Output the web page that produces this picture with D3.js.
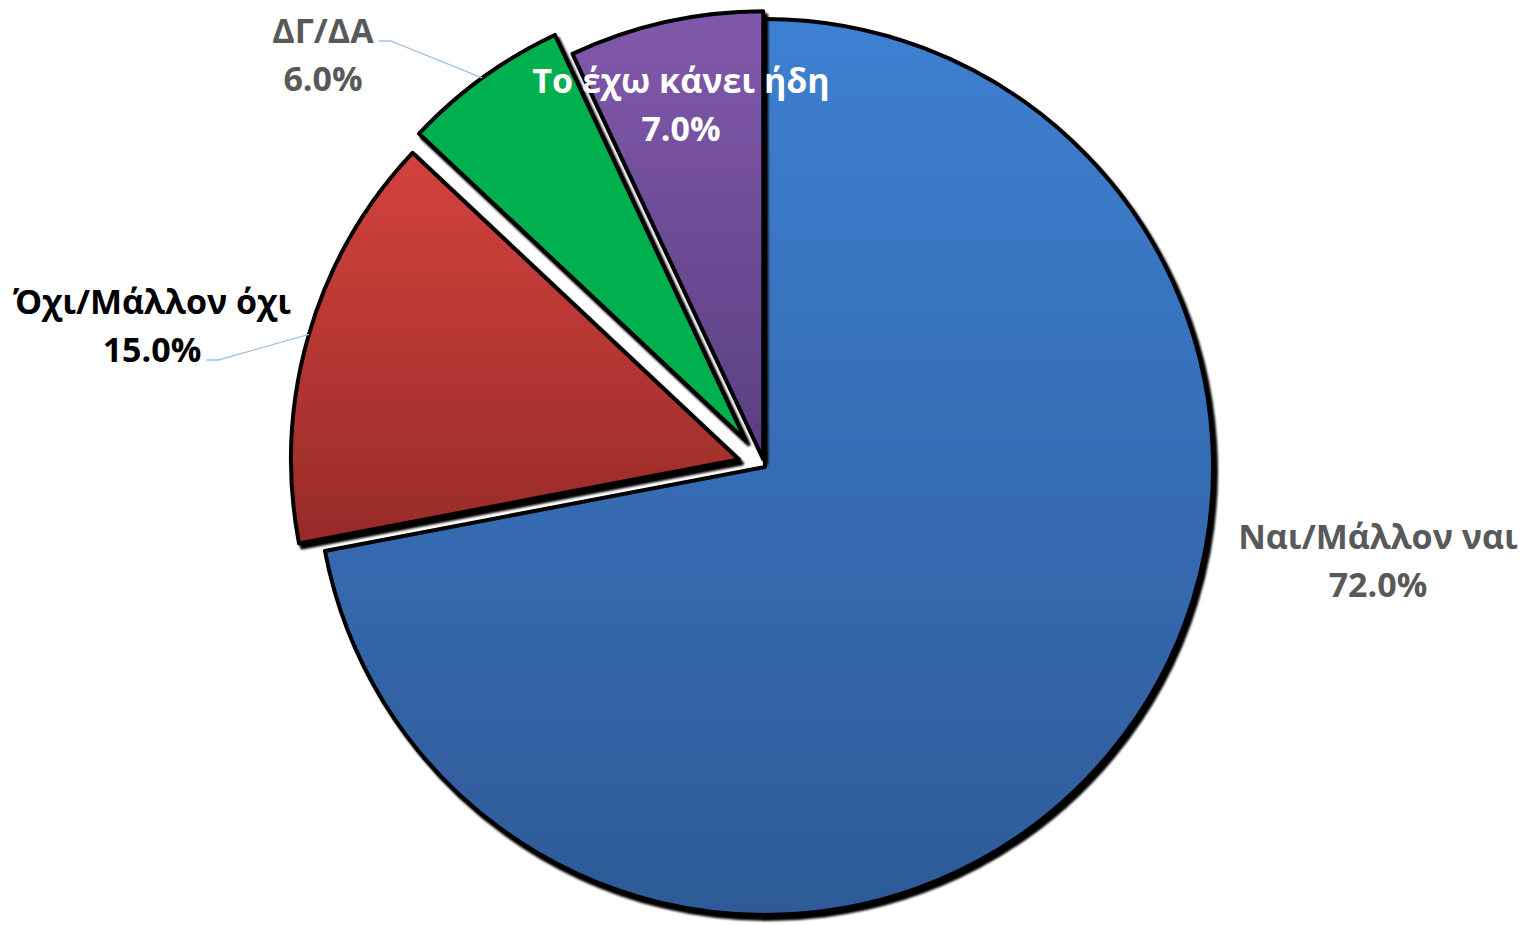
<!DOCTYPE html>
<html lang="el">
<head>
<meta charset="UTF-8">
<title>Pie chart</title>
<script src="https://d3js.org/d3.v7.min.js"></script>
<style>
    body { margin: 0; background: #fff; }
    svg { display: block; }
    .lbl { font-family: "Open Sans", "Noto Sans", sans-serif; font-weight: bold; }
</style>
</head>
<body>
<svg width="1522" height="925"></svg>
<script>
    // data
    const categories = ["Ναι/Μάλλον ναι", "Όχι/Μάλλον όχι", "ΔΓ/ΔΑ", "Το έχω κάνει ήδη"];
    const values = [72, 15, 6, 7];
    const valueLabels = ["72.0%", "15.0%", "6.0%", "7.0%"];

    // styling / layout
    const colorTop = ["#3E80D2", "#D3423D", "#00B050", "#8159AC"];
    const colorBottom = ["#2E5A97", "#982B28", "#00B050", "#5A3F80"];
    const labelColor = ["#595959", "#000000", "#595959", "#ffffff"];
    const explode = [0, 27, 33, 8];
    const labelOffset = [[613, 93], [-613, -142], [-442, -413], [-84, -363]];
    const leaderFrom = [null, 1, 0, null];   // which text line the leader starts from

    const cx = 765, cy = 467, r = 448;
    const svg = d3.select("svg");

    const defs = svg.append("defs");
    const shadow = defs.append("filter").attr("id", "shadow")
        .attr("x", "-10%").attr("y", "-10%").attr("width", "120%").attr("height", "120%");
    shadow.append("feDropShadow")
        .attr("dx", 3).attr("dy", 4).attr("stdDeviation", 0.8)
        .attr("flood-color", "#000").attr("flood-opacity", 1);

    values.forEach((v, i) => {
        const g = defs.append("linearGradient").attr("id", "grad" + i)
            .attr("x1", 0).attr("y1", 0).attr("x2", 0).attr("y2", 1);
        g.append("stop").attr("offset", "0%").attr("stop-color", colorTop[i]);
        g.append("stop").attr("offset", "100%").attr("stop-color", colorBottom[i]);
    });

    const pie = d3.pie().sort(null).value(d => d);
    const arcs = pie(values);
    const arc = d3.arc().innerRadius(0).outerRadius(r);

    function shift(d, i) {
        const mid = (d.startAngle + d.endAngle) / 2;
        return [Math.sin(mid) * explode[i], -Math.cos(mid) * explode[i]];
    }

    const pieG = svg.append("g").attr("transform", `translate(${cx},${cy})`);

    pieG.selectAll("path.slice")
        .data(arcs)
        .enter()
        .append("path")
        .attr("class", "slice")
        .attr("transform", (d, i) => `translate(${shift(d, i)})`)
        .attr("d", arc)
        .attr("fill", (d, i) => `url(#grad${i})`)
        .attr("stroke", "#000")
        .attr("stroke-width", 4)
        .attr("stroke-linejoin", "round")
        .attr("filter", "url(#shadow)");

    // labels
    const labelG = pieG.append("g");
    arcs.forEach((d, i) => {
        const [lx, ly] = labelOffset[i];
        const t = labelG.append("text")
            .attr("class", "lbl")
            .attr("text-anchor", "middle")
            .attr("fill", labelColor[i])
            .style("font-size", "34px");
        const l1 = t.append("tspan").attr("x", lx).attr("y", ly - 24)
            .attr("dominant-baseline", "central").text(categories[i]);
        const l2 = t.append("tspan").attr("x", lx).attr("y", ly + 24)
            .attr("dominant-baseline", "central").text(valueLabels[i]);

        if (leaderFrom[i] !== null) {
            const node = (leaderFrom[i] === 0 ? l1 : l2).node();
            const len = node.getComputedTextLength();
            const sx = lx + len / 2 + 5;
            const sy = (leaderFrom[i] === 0 ? ly - 24 : ly + 24) + 11;
            const mid = (d.startAngle + d.endAngle) / 2;
            const [ox, oy] = shift(d, i);
            const ex = ox + Math.sin(mid) * r;
            const ey = oy - Math.cos(mid) * r;
            pieG.insert("path", "g")
                .attr("d", d3.line()([[sx, sy], [sx + 12, sy], [ex, ey]]))
                .attr("fill", "none")
                .attr("stroke", "#9DC3E6")
                .attr("stroke-width", 1.3);
        }
    });
</script>
</body>
</html>
